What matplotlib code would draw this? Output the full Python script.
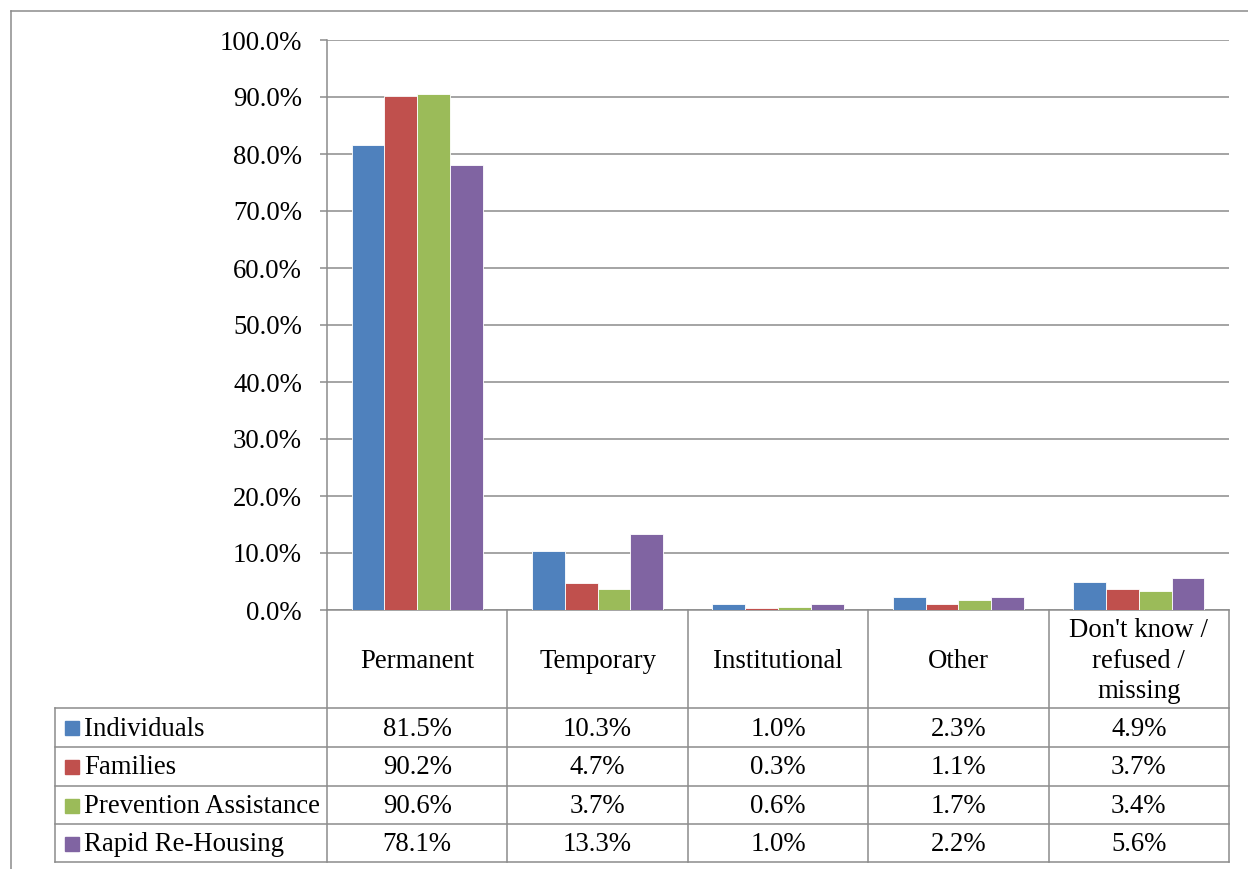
import matplotlib.pyplot as plt
import numpy as np

plt.rcParams['font.family'] = ['Liberation Serif', 'DejaVu Serif']

# data
categories = ['Permanent', 'Temporary', 'Institutional', 'Other',
              "Don't know /\nrefused /\nmissing"]
series_names = ['Individuals', 'Families', 'Prevention Assistance', 'Rapid Re-Housing']
individuals = [81.5, 10.3, 1.0, 2.3, 4.9]
families = [90.2, 4.7, 0.3, 1.1, 3.7]
prevention = [90.6, 3.7, 0.6, 1.7, 3.4]
rapid = [78.1, 13.3, 1.0, 2.2, 5.6]
colors = ['#4F81BD', '#C0504D', '#9BBB59', '#8064A2']
yticks = np.arange(0, 101, 10)

series = [individuals, families, prevention, rapid]

W, H = 1248, 869
fig = plt.figure(figsize=(W / 100, H / 100), dpi=100)
grid_c = '#8c8c8c'
fs = 19.3

# plot area in pixels
L, R, T, B = 327, 1229, 40, 610
ax = fig.add_axes([L / W, 1 - B / H, (R - L) / W, (B - T) / H])
x = np.arange(len(categories))
bw = 0.182
for i, (vals, c) in enumerate(zip(series, colors)):
    ax.bar(x + (i - 1.5) * bw, vals, bw, color=c, edgecolor='white',
           linewidth=0.6, zorder=3)
ax.set_xlim(-0.5, len(categories) - 0.5)
ax.set_ylim(0, 100)
ax.set_yticks(yticks)
ax.set_yticklabels([f'{v:.1f}%' for v in yticks], fontsize=fs)
ax.set_xticks([])
ax.yaxis.grid(True, color=grid_c, linewidth=1.1, zorder=0)
for s in ['top', 'right']:
    ax.spines[s].set_visible(False)
for s in ['left', 'bottom']:
    ax.spines[s].set_color(grid_c)
    ax.spines[s].set_linewidth(1.1)
ax.tick_params(axis='y', length=5, width=1.1, color=grid_c, pad=13)

# overlay for the data table and frame (pixel coords)
ov = fig.add_axes([0, 0, 1, 1])
ov.set_xlim(0, W)
ov.set_ylim(H, 0)
ov.axis('off')
ov.patch.set_alpha(0)

# outer chart frame
ov.plot([11, 11], [11, H], color=grid_c, lw=1.1)
ov.plot([11, W], [11, 11], color=grid_c, lw=1.1)

col_edges = np.linspace(L, R, len(categories) + 1)
row_edges = [B, 708, 747, 786, 824, 862]
tbl_left = 55
for cx in col_edges:
    ov.plot([cx, cx], [B, row_edges[-1]], color=grid_c, lw=1.1)
ov.plot([tbl_left, tbl_left], [row_edges[1], row_edges[-1]], color=grid_c, lw=1.1)
for ry in row_edges[1:]:
    ov.plot([tbl_left, R], [ry, ry], color=grid_c, lw=1.1)

# header
centers = (col_edges[:-1] + col_edges[1:]) / 2
for cx, cat in zip(centers, categories):
    ov.text(cx, (row_edges[0] + row_edges[1]) / 2 + 2, cat, ha='center',
            va='center', fontsize=fs, linespacing=1.3)

# rows
for r, (name, vals, c) in enumerate(zip(series_names, series, colors)):
    yc = (row_edges[r + 1] + row_edges[r + 2]) / 2 + 1.5
    ov.add_patch(plt.Rectangle((65, yc - 8), 14, 14, color=c))
    ov.text(84, yc, name, ha='left', va='center', fontsize=fs)
    for cx, v in zip(centers, vals):
        ov.text(cx, yc, f'{v:.1f}%', ha='center', va='center', fontsize=fs)

fig.savefig('out.png', dpi=100)
